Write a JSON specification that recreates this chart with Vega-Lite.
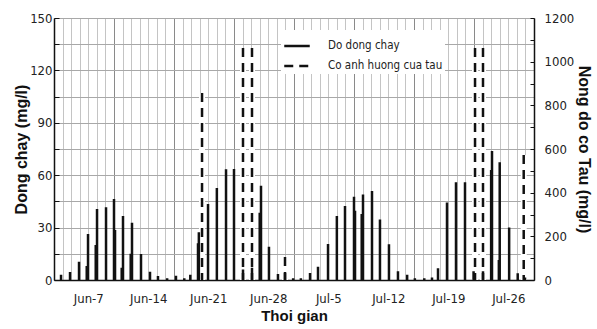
{
  "$schema": "https://vega.github.io/schema/vega-lite/v6.json",
  "width": 480,
  "height": 262,
  "autosize": "none",
  "padding": {"left": 54, "top": 18, "right": 63, "bottom": 49},
  "background": "white",
  "config": {
    "view": {"stroke": null},
    "font": "Liberation Sans",
    "axis": {
      "labelFont": "Liberation Sans Narrow, DejaVu Sans Condensed, Liberation Sans",
      "labelFontSize": 13,
      "labelColor": "#222",
      "titleFont": "Liberation Sans",
      "titleFontSize": 16,
      "titleFontWeight": "bold",
      "titleColor": "#111",
      "domainColor": "#111",
      "domainWidth": 1.5
    }
  },
  "datasets": {
    "solid": [
      {"t": 3.82, "v": 3, "s": "Do dong chay"},
      {"t": 4.87, "v": 4.6, "s": "Do dong chay"},
      {"t": 5.92, "v": 10.5, "s": "Do dong chay"},
      {"t": 6.82, "v": 8, "s": "Do dong chay"},
      {"t": 6.97, "v": 26.3, "s": "Do dong chay"},
      {"t": 7.87, "v": 20, "s": "Do dong chay"},
      {"t": 8.02, "v": 40.6, "s": "Do dong chay"},
      {"t": 9.07, "v": 41.6, "s": "Do dong chay"},
      {"t": 10.0, "v": 46.4, "s": "Do dong chay"},
      {"t": 10.12, "v": 28.6, "s": "Do dong chay"},
      {"t": 10.9, "v": 7, "s": "Do dong chay"},
      {"t": 11.05, "v": 36.6, "s": "Do dong chay"},
      {"t": 11.95, "v": 15, "s": "Do dong chay"},
      {"t": 12.1, "v": 32.8, "s": "Do dong chay"},
      {"t": 13.15, "v": 14.9, "s": "Do dong chay"},
      {"t": 14.2, "v": 4.7, "s": "Do dong chay"},
      {"t": 15.13, "v": 2.3, "s": "Do dong chay"},
      {"t": 16.2, "v": 1, "s": "Do dong chay"},
      {"t": 17.23, "v": 2.5, "s": "Do dong chay"},
      {"t": 18.2, "v": 1, "s": "Do dong chay"},
      {"t": 18.9, "v": 3, "s": "Do dong chay"},
      {"t": 19.8, "v": 21, "s": "Do dong chay"},
      {"t": 19.9, "v": 27.4, "s": "Do dong chay"},
      {"t": 20.97, "v": 43.5, "s": "Do dong chay"},
      {"t": 22.0, "v": 52.7, "s": "Do dong chay"},
      {"t": 23.07, "v": 63.4, "s": "Do dong chay"},
      {"t": 24.0, "v": 63.6, "s": "Do dong chay"},
      {"t": 25.05, "v": 6, "s": "Do dong chay"},
      {"t": 26.1, "v": 7, "s": "Do dong chay"},
      {"t": 27.0, "v": 38.5, "s": "Do dong chay"},
      {"t": 27.15, "v": 54, "s": "Do dong chay"},
      {"t": 28.08, "v": 19, "s": "Do dong chay"},
      {"t": 29.13, "v": 3.4, "s": "Do dong chay"},
      {"t": 29.95, "v": 4, "s": "Do dong chay"},
      {"t": 30.9, "v": 1, "s": "Do dong chay"},
      {"t": 31.8, "v": 1, "s": "Do dong chay"},
      {"t": 32.87, "v": 4, "s": "Do dong chay"},
      {"t": 33.8, "v": 7.6, "s": "Do dong chay"},
      {"t": 34.97, "v": 20.6, "s": "Do dong chay"},
      {"t": 36.0, "v": 36.6, "s": "Do dong chay"},
      {"t": 36.95, "v": 42.4, "s": "Do dong chay"},
      {"t": 38.0, "v": 47.7, "s": "Do dong chay"},
      {"t": 38.12, "v": 39.7, "s": "Do dong chay"},
      {"t": 38.9, "v": 37.8, "s": "Do dong chay"},
      {"t": 39.05, "v": 49, "s": "Do dong chay"},
      {"t": 40.1, "v": 50.9, "s": "Do dong chay"},
      {"t": 41.03, "v": 34.7, "s": "Do dong chay"},
      {"t": 42.08, "v": 20.4, "s": "Do dong chay"},
      {"t": 43.13, "v": 5, "s": "Do dong chay"},
      {"t": 44.2, "v": 3, "s": "Do dong chay"},
      {"t": 45.1, "v": 1, "s": "Do dong chay"},
      {"t": 46.2, "v": 1, "s": "Do dong chay"},
      {"t": 47.1, "v": 1.5, "s": "Do dong chay"},
      {"t": 47.8, "v": 6.7, "s": "Do dong chay"},
      {"t": 48.85, "v": 44.3, "s": "Do dong chay"},
      {"t": 49.9, "v": 56, "s": "Do dong chay"},
      {"t": 50.95, "v": 56, "s": "Do dong chay"},
      {"t": 51.95, "v": 5, "s": "Do dong chay"},
      {"t": 53.05, "v": 5, "s": "Do dong chay"},
      {"t": 54.0, "v": 63, "s": "Do dong chay"},
      {"t": 54.1, "v": 73.8, "s": "Do dong chay"},
      {"t": 54.9, "v": 11.5, "s": "Do dong chay"},
      {"t": 55.0, "v": 67.4, "s": "Do dong chay"},
      {"t": 56.1, "v": 30, "s": "Do dong chay"},
      {"t": 57.1, "v": 3.8, "s": "Do dong chay"},
      {"t": 57.95, "v": 1.5, "s": "Do dong chay"}
    ],
    "dashed": [
      {"t": 20.27, "v": 856, "s": "Co anh huong cua tau"},
      {"t": 25.05, "v": 1063, "s": "Co anh huong cua tau"},
      {"t": 26.1, "v": 1063, "s": "Co anh huong cua tau"},
      {"t": 29.95, "v": 105, "s": "Co anh huong cua tau"},
      {"t": 52.12, "v": 1063, "s": "Co anh huong cua tau"},
      {"t": 53.05, "v": 1063, "s": "Co anh huong cua tau"},
      {"t": 57.8, "v": 572, "s": "Co anh huong cua tau"}
    ]
  },
  "encoding": {
    "x": {
      "field": "t",
      "type": "quantitative",
      "scale": {"domain": [3, 59], "nice": false, "zero": false},
      "axis": {
        "title": "Thoi gian",
        "titleFontSize": 15,
        "values": [3,4,5,6,7,8,9,10,11,12,13,14,15,16,17,18,19,20,21,22,23,24,25,26,27,28,29,30,31,32,33,34,35,36,37,38,39,40,41,42,43,44,45,46,47,48,49,50,51,52,53,54,55,56,57,58,59],
        "labelExpr": "datum.value % 7 == 0 ? (datum.value <= 30 ? 'Jun-' + datum.value : 'Jul-' + (datum.value - 30)) : ''",
        "labelOverlap": false,
        "labelFlush": false,
        "ticks": false,
        "labelPadding": 12,
        "titlePadding": 3,
        "grid": true,
        "gridColor": {"condition": {"test": "(datum.value - 3) % 7 == 0", "value": "#8a8a8a"}, "value": "#c4c4c4"},
        "gridWidth": 1
      }
    }
  },
  "layer": [
    {
      "data": {"name": "dashed"},
      "mark": {"type": "rule", "stroke": "white", "strokeWidth": 6},
      "encoding": {
        "y": {"field": "v", "type": "quantitative", "scale": {"domain": [0, 1200], "nice": false}, "axis": null},
        "y2": {"datum": 0}
      }
    },
    {
      "data": {"name": "solid"},
      "mark": {"type": "rule", "color": "#111", "strokeWidth": 2.5},
      "encoding": {
        "y": {
          "field": "v",
          "type": "quantitative",
          "scale": {"domain": [0, 150], "nice": false},
          "axis": {
            "orient": "left",
            "title": "Dong chay (mg/l)",
            "values": [0, 15, 30, 45, 60, 75, 90, 105, 120, 135, 150],
            "labelExpr": "datum.value % 30 == 0 ? datum.label : ''",
            "grid": true,
            "gridColor": "#a8a8a8",
            "tickSize": -5,
            "tickColor": "#111",
            "labelPadding": 7,
            "titlePadding": 0
          }
        },
        "y2": {"datum": 0},
        "strokeDash": {
          "field": "s",
          "type": "nominal",
          "scale": {"domain": ["Do dong chay", "Co anh huong cua tau"], "range": [[1, 0], [9, 6]]},
          "legend": {
            "orient": "none",
            "legendX": 227,
            "legendY": 12,
            "title": null,
            "fillColor": "white",
            "padding": 2,
            "symbolType": "stroke",
            "symbolStrokeWidth": 2.5,
            "symbolSize": 650,
            "symbolStrokeColor": "#111",
            "labelFont": "Liberation Sans Narrow, DejaVu Sans Condensed, Liberation Sans",
            "labelFontSize": 11.5,
            "labelColor": "#222",
            "labelOffset": 17,
            "labelLimit": 200,
            "rowPadding": -20
          }
        }
      }
    },
    {
      "data": {"name": "dashed"},
      "mark": {"type": "rule", "color": "#111", "strokeWidth": 2.5},
      "encoding": {
        "y": {
          "field": "v",
          "type": "quantitative",
          "scale": {"domain": [0, 1200], "nice": false},
          "axis": {
            "orient": "right",
            "title": "Nong do co Tau (mg/l)",
            "values": [0, 100, 200, 300, 400, 500, 600, 700, 800, 900, 1000, 1100, 1200],
            "labelExpr": "datum.value % 200 == 0 ? datum.label : ''",
            "format": "d",
            "grid": false,
            "tickSize": -4,
            "tickColor": "#111",
            "labelPadding": 14,
            "titlePadding": 2
          }
        },
        "y2": {"datum": 0},
        "strokeDash": {
          "field": "s",
          "type": "nominal",
          "scale": {"domain": ["Do dong chay", "Co anh huong cua tau"], "range": [[1, 0], [9, 6]]}
        }
      }
    }
  ],
  "resolve": {"scale": {"y": "independent"}}
}
